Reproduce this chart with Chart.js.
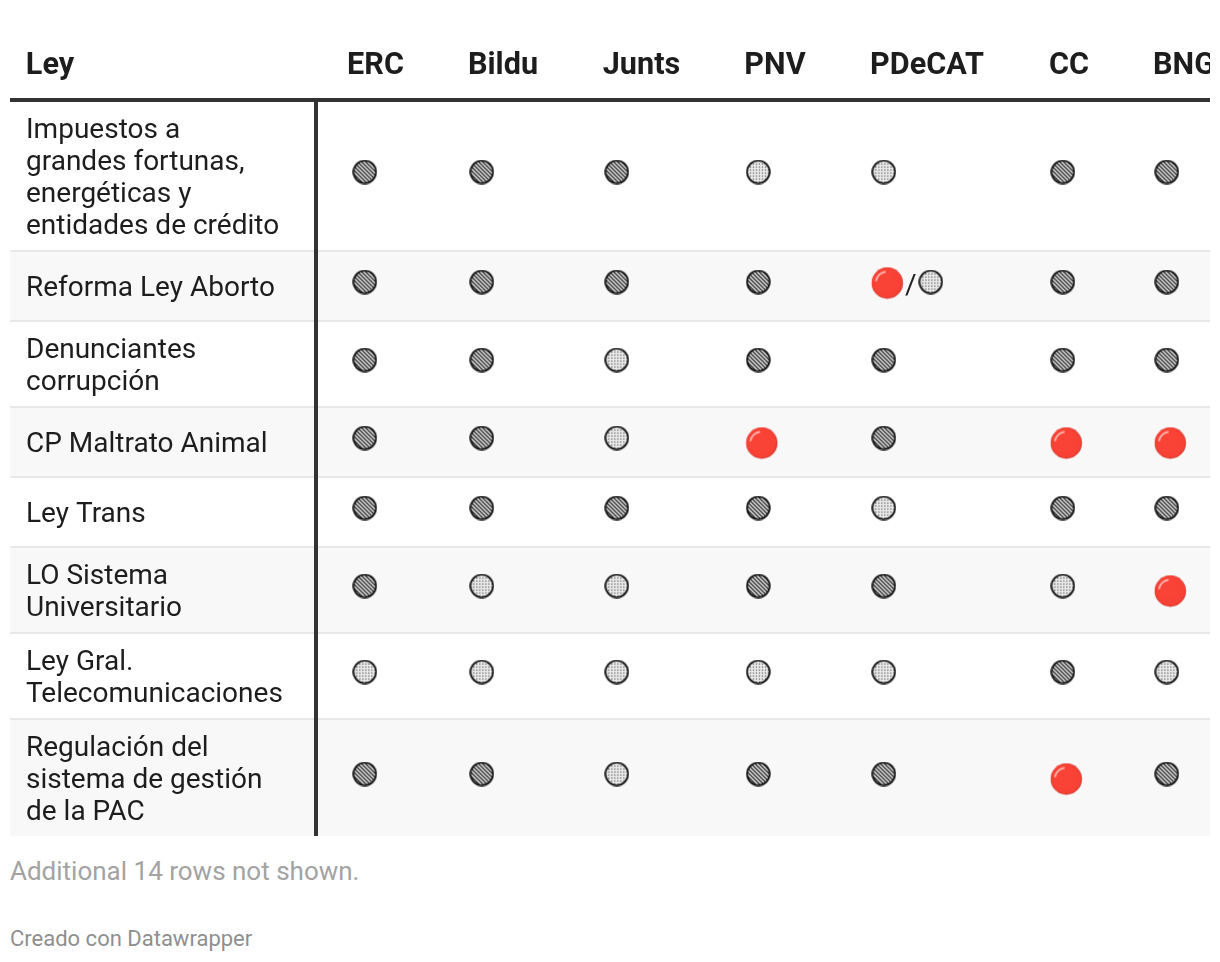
<!DOCTYPE html>
<html lang="es">
<head>
  <meta charset="UTF-8" />
  <title>Ley</title>
  <script src="https://cdn.jsdelivr.net/npm/chart.js"></script>
  <style>
    * { box-sizing: border-box; }
    html, body { margin: 0; background: #fff; }
    body { width: 1220px; height: 962px; position: relative; overflow: hidden; font-family: Roboto, sans-serif; }
    #voteChart { position: absolute; left: 10px; top: 0; }
    .note { position: absolute; left: 10px; white-space: nowrap; line-height: 1; }
    #rowsNote { top: 858px; font-size: 26px; color: #a3a3a3; }
    #credit { top: 928px; font-size: 22px; color: #8f8f8f; }
  </style>
</head>
<body>
  <canvas id="voteChart" width="1200" height="836"></canvas>
  <div class="note" id="rowsNote">Additional 14 rows not shown.</div>
  <div class="note" id="credit">Creado con Datawrapper</div>

  <script>
    const parties = ['ERC', 'Bildu', 'Junts', 'PNV', 'PDeCAT', 'CC', 'BNG'];
    const laws = [
      ['Impuestos a', 'grandes fortunas,', 'energéticas y', 'entidades de crédito'],
      ['Reforma Ley Aborto'],
      ['Denunciantes', 'corrupción'],
      ['CP Maltrato Animal'],
      ['Ley Trans'],
      ['LO Sistema', 'Universitario'],
      ['Ley Gral.', 'Telecomunicaciones'],
      ['Regulación del', 'sistema de gestión', 'de la PAC']
    ];

    // h = hatched circle, d = dotted circle, r = red circle, a/b = both
    const votes1 = ['h', 'h', 'h', 'd', 'd', 'h', 'h'];
    const votes2 = ['h', 'h', 'h', 'h', 'r/d', 'h', 'h'];
    const votes3 = ['h', 'h', 'd', 'h', 'h', 'h', 'h'];
    const votes4 = ['h', 'h', 'd', 'r', 'h', 'r', 'r'];
    const votes5 = ['h', 'h', 'h', 'h', 'd', 'h', 'h'];
    const votes6 = ['h', 'd', 'd', 'h', 'h', 'd', 'r'];
    const votes7 = ['d', 'd', 'd', 'd', 'd', 'h', 'd'];
    const votes8 = ['h', 'h', 'd', 'h', 'h', 'r', 'h'];
    const allVotes = [votes1, votes2, votes3, votes4, votes5, votes6, votes7, votes8];

    // table layout, in page pixels
    const headerX = [50, 375.5, 503, 641.5, 775, 927, 1069, 1184];
    const columnX = [364.8, 481.8, 616.8, 758.3, 883.8, 1062.8, 1166.8];
    const rowEdges = [100, 251, 321, 407, 477, 547, 633, 719, 836];
    const rowCenters = [179, 289, 367, 445, 515, 593, 679, 781];
    const darkLine = '#333333';
    const lightLine = '#e8e8e8';
    const bandColor = '#f8f8f8';

    const makeMark = (size, paint) => {
      const c = document.createElement('canvas');
      c.width = size;
      c.height = size;
      paint(c.getContext('2d'), size);
      return c;
    };

    const ringMark = (fill) => makeMark(25, (ctx, size) => {
      const mid = size / 2;
      ctx.save();
      ctx.beginPath();
      ctx.arc(mid, mid, mid - 1, 0, Math.PI * 2);
      ctx.clip();
      fill(ctx, size);
      ctx.restore();
      ctx.beginPath();
      ctx.arc(mid, mid, mid - 1.2, 0, Math.PI * 2);
      ctx.lineWidth = 1.8;
      ctx.strokeStyle = '#161616';
      ctx.stroke();
    });

    const hatchedMark = ringMark((ctx, size) => {
      ctx.fillStyle = '#f6f6f6';
      ctx.fillRect(0, 0, size, size);
      ctx.strokeStyle = '#222222';
      ctx.lineWidth = 1.4;
      for (let i = -size; i < size; i += 4) {
        ctx.beginPath();
        ctx.moveTo(i, 0);
        ctx.lineTo(i + size, size);
        ctx.stroke();
      }
    });

    const dottedMark = ringMark((ctx, size) => {
      ctx.fillStyle = '#ececec';
      ctx.fillRect(0, 0, size, size);
      ctx.fillStyle = '#4f4f4f';
      for (let y = 1; y < size; y += 3) {
        for (let x = 1; x < size; x += 3) {
          ctx.fillRect(x, y, 1.2, 1.2);
        }
      }
    });

    const redMark = makeMark(33, (ctx, size) => {
      const mid = size / 2;
      const grad = ctx.createRadialGradient(mid - 2, mid - 2, 10, mid, mid, mid - 0.5);
      grad.addColorStop(0, '#f94336');
      grad.addColorStop(0.75, '#f64134');
      grad.addColorStop(1, '#c62f28');
      ctx.beginPath();
      ctx.arc(mid, mid, mid - 0.8, 0, Math.PI * 2);
      ctx.fillStyle = grad;
      ctx.fill();
      ctx.beginPath();
      ctx.arc(mid, mid, mid - 5, Math.PI * 1.05, Math.PI * 1.45);
      ctx.lineWidth = 2;
      ctx.strokeStyle = 'rgba(255, 205, 200, 0.85)';
      ctx.stroke();
    });

    // builds one kind of mark from the vote lists; 2nd mark of a split cell sits further right
    const pointsFor = (kind) => {
      const points = [];
      allVotes.forEach((row, r) => {
        row.forEach((cell, c) => {
          const split = cell.includes('/');
          cell.split('/').forEach((part, i) => {
            if (part !== kind) return;
            const nudgeX = (kind === 'r' ? 3.5 : 0) + (i > 0 ? 47 : 0);
            const nudgeY = kind === 'r' && !split ? -2 : -7;
            points.push({ x: columnX[c] + nudgeX, y: rowCenters[r] + nudgeY + (kind === 'r' && split ? 1 : 0) });
          });
        });
      });
      return points;
    };

    const tablePlugin = {
      id: 'tableLines',
      beforeDraw(chart) {
        const { ctx, scales: { x, y } } = chart;
        const left = x.getPixelForValue(10);
        const right = x.getPixelForValue(1210);
        ctx.save();
        rowEdges.slice(0, -1).forEach((edge, i) => {
          const top = y.getPixelForValue(edge);
          const bottom = y.getPixelForValue(rowEdges[i + 1]);
          if (i % 2 === 1) {
            ctx.fillStyle = bandColor;
            ctx.fillRect(left, top, right - left, bottom - top);
          }
          if (i > 0) {
            ctx.fillStyle = lightLine;
            ctx.fillRect(left, top - 1, right - left, 2);
          }
        });
        ctx.fillStyle = darkLine;
        ctx.fillRect(left, y.getPixelForValue(rowEdges[0]) - 2, right - left, 4);
        ctx.restore();
      },
      afterDatasetsDraw(chart) {
        // the slash between the two marks of the split PDeCAT cell
        const { ctx, scales: { x, y } } = chart;
        allVotes.forEach((row, r) => {
          row.forEach((cell, c) => {
            if (!cell.includes('/')) return;
            ctx.save();
            ctx.font = '400 28px Roboto';
            ctx.fillStyle = '#222222';
            ctx.textAlign = 'center';
            ctx.textBaseline = 'middle';
            ctx.fillText('/', x.getPixelForValue(columnX[c] + 27), y.getPixelForValue(rowCenters[r] - 2.5));
            ctx.restore();
          });
        });
      }
    };

    new Chart(document.getElementById('voteChart'), {
      type: 'scatter',
      data: {
        datasets: [
          { label: 'hatched', data: pointsFor('h'), pointStyle: hatchedMark },
          { label: 'dotted', data: pointsFor('d'), pointStyle: dottedMark },
          { label: 'red', data: pointsFor('r'), pointStyle: redMark }
        ]
      },
      plugins: [tablePlugin],
      options: {
        responsive: false,
        animation: false,
        events: [],
        layout: { autoPadding: false, padding: { left: 16, top: 0, right: 0, bottom: 0 } },
        plugins: { legend: { display: false }, tooltip: { enabled: false } },
        scales: {
          x: {
            type: 'linear',
            position: 'top',
            min: 316,
            max: 1210,
            grid: { display: false },
            border: { display: false },
            ticks: {
              autoSkip: false,
              minRotation: 0,
              maxRotation: 0,
              padding: 7,
              color: '#1d1d1d',
              font: { family: 'Roboto', size: 30.6, weight: '700' },
              callback: (value, index) => ['Ley', ...parties][index]
            },
            afterBuildTicks: (scale) => { scale.ticks = headerX.map(value => ({ value })); },
            afterFit: (scale) => {
              scale.height = 100;
              scale.paddingLeft = 0;
              scale.paddingRight = 0;
            }
          },
          y: {
            type: 'linear',
            position: 'left',
            reverse: true,
            min: 100,
            max: 836,
            grid: { display: false, drawTicks: false },
            border: { display: true, color: darkLine, width: 4 },
            ticks: {
              autoSkip: false,
              crossAlign: 'far',
              color: '#1d1d1d',
              font: { family: 'Roboto', size: 28, weight: '400', lineHeight: '32px' },
              callback: (value, index) => laws[index]
            },
            afterBuildTicks: (scale) => { scale.ticks = rowCenters.map(value => ({ value })); },
            afterFit: (scale) => {
              scale.width = 290;
              scale.paddingTop = 0;
              scale.paddingBottom = 0;
            }
          }
        }
      }
    });
  </script>
</body>
</html>
